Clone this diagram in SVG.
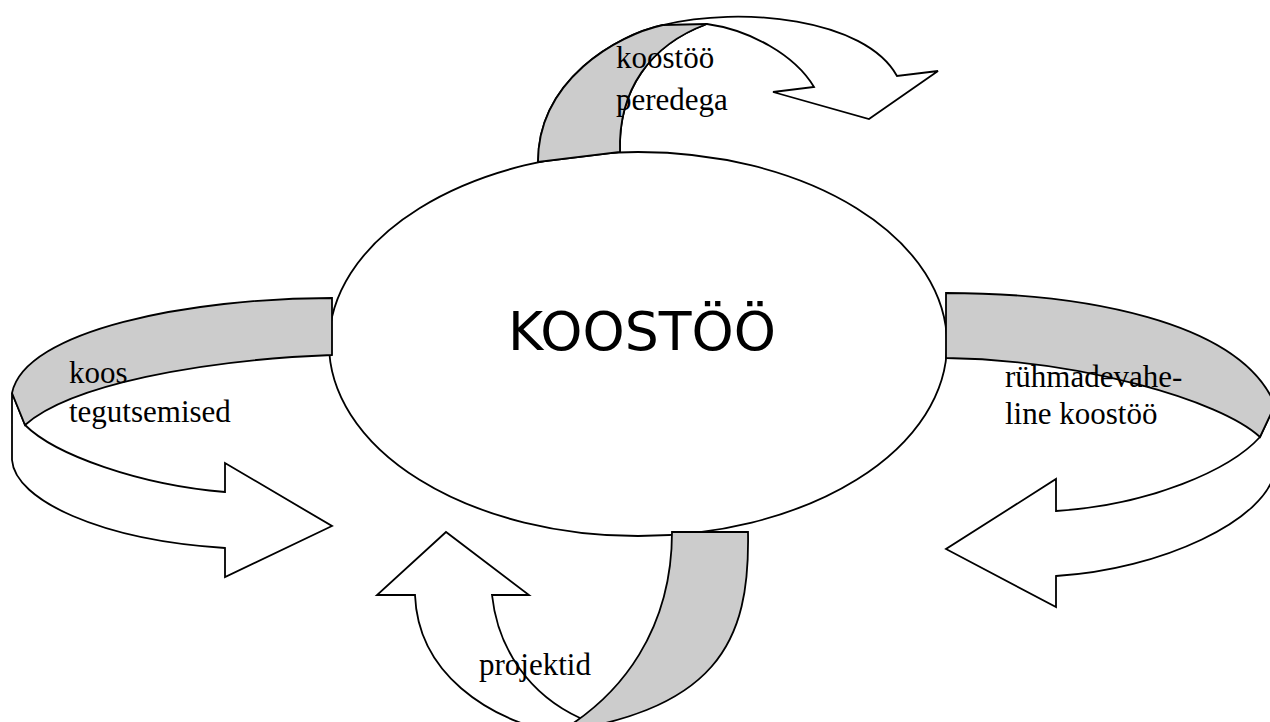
<svg xmlns="http://www.w3.org/2000/svg" width="1270" height="722" viewBox="0 0 1270 722">
<style>
.body{fill:#ffffff;stroke:#000;stroke-width:1.8;stroke-linejoin:miter}
.face{fill:#cccccc;stroke:#000;stroke-width:1.8;stroke-linejoin:miter}
.lbl{font-family:"Liberation Serif","Times New Roman",serif;font-size:31px;fill:#000}
.title{font-family:"Comic Sans MS","DejaVu Sans",sans-serif;font-size:54px;fill:#000}
</style>
<rect x="0" y="0" width="1270" height="722" fill="#ffffff"/>
<g id="node-koostoo">
<ellipse cx="638" cy="344" rx="309" ry="192" fill="#ffffff" stroke="#000" stroke-width="1.8"/>
<text class="title" x="642" y="350" text-anchor="middle" textLength="268" lengthAdjust="spacingAndGlyphs">KOOSTÖÖ</text>
</g>
<g id="connectors">
<g id="arrow-peredega">
<path class="body" d="M538,162 C538,80 617,35 663,25 C740,6 865,18 897,76 L938,71 L869,119 L773,92 L814,87 C795,55 750,30 707,24 C650,45 618,90 620,152 Z"/>
<path class="face" d="M538,162 C538,80 617,35 663,25 L707,24 C650,45 618,90 620,152 Z"/>
</g>
<g id="arrow-koos">
<path class="body" d="M12,393 L12,460 C15,500 100,540 225,548 L225,577 L332,526 L225,463 L225,492 C140,485 55,455 25,425 Z"/>
<path class="face" d="M332,298 C190,298 25,330 12,393 L25,425 C70,385 200,360 332,355 Z"/>
</g>
<g id="arrow-ruhmade">
<path class="body" d="M1275,405 L1275,470 C1268,520 1160,570 1056,576 L1056,607 L946,549 L1056,479 L1056,511 C1150,505 1230,470 1260,437 Z"/>
<path class="face" d="M946,293 C1080,293 1240,320 1275,405 L1260,437 C1220,400 1080,360 946,358 Z"/>
</g>
<g id="arrow-projektid">
<path class="body" d="M415,595 L377,595 L446,532 L529,595 L492,595 C498,650 530,695 580,718 L575,742 L565,735 C485,720 418,672 415,595 Z"/>
<path class="face" d="M672,532 L748,532 C750,640 720,715 535,735 L535,745 C630,700 672,620 672,532 Z"/>
</g>
</g>
<g id="labels">
<text class="lbl" x="616" y="68">koostöö</text>
<text class="lbl" x="616" y="110">peredega</text>
<text class="lbl" x="69" y="383">koos</text>
<text class="lbl" x="69" y="422">tegutsemised</text>
<text class="lbl" x="1005" y="387">rühmadevahe-</text>
<text class="lbl" x="1005" y="424">line koostöö</text>
<text class="lbl" x="479" y="675">projektid</text>
</g>
</svg>
